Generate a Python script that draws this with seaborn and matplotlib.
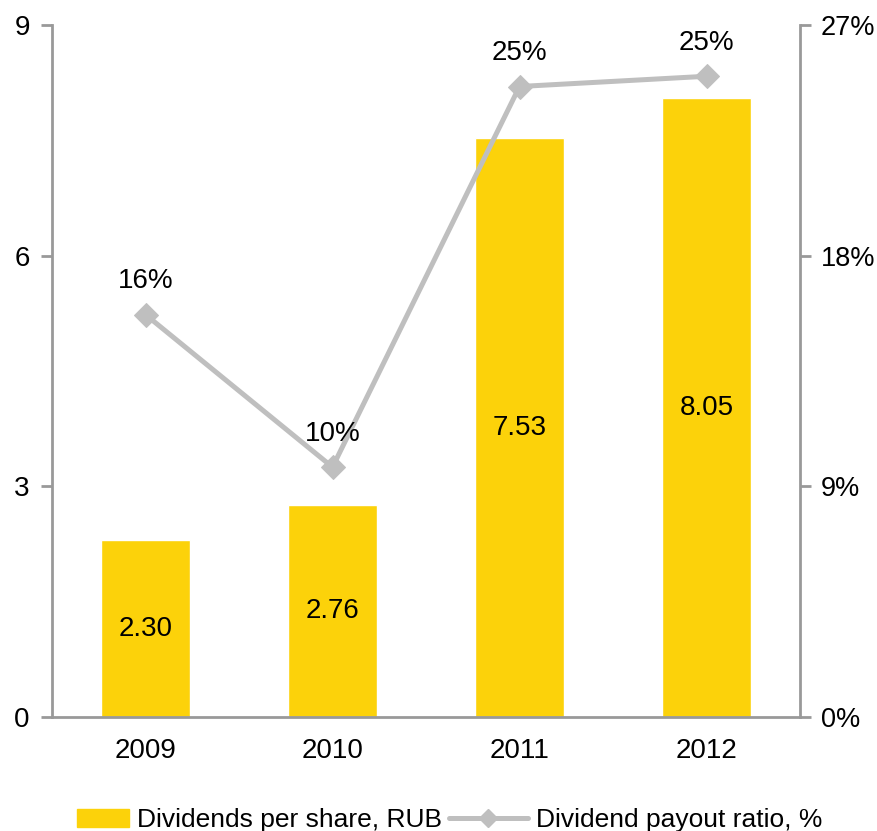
import matplotlib
matplotlib.use("Agg")
import matplotlib.pyplot as plt
import seaborn as sns
import pandas as pd
from matplotlib.lines import Line2D
from matplotlib.patches import Patch, Rectangle
from matplotlib.legend_handler import HandlerPatch

years = ["2009", "2010", "2011", "2012"]
dividends = [2.30, 2.76, 7.53, 8.05]
payout = [15.7, 9.75, 24.6, 25.0]
left_ticks = [0, 3, 6, 9]
right_ticks = [0, 9, 18, 27]

sns.set_theme(style="white")
plt.rcParams["font.family"] = ["Liberation Sans", "DejaVu Sans"]
plt.rcParams["text.color"] = "black"

BAR = "#FCD20A"
LINE = "#BFBFBF"
SPINE = "#999999"
FS = 20

df = pd.DataFrame({"year": years, "div": dividends, "pay": payout})

fig = plt.figure(figsize=(8.77, 8.31), dpi=100)
ax = fig.add_axes([52/877, 1-717/831, (800-52)/877, (717-25)/831])

sns.barplot(data=df, x="year", y="div", color=BAR, width=0.48, saturation=1, ax=ax)
ax.set_xlim(-0.5, 3.5)
ax.set_ylim(0, 9)
ax.set_yticks(left_ticks)
ax.set_xlabel("")
ax.set_ylabel("")

for i, v in enumerate(dividends):
    ax.text(i, v/2, f"{v:.2f}", ha="center", va="center", fontsize=FS, color="black")

ax2 = ax.twinx()
sns.lineplot(data=df, x="year", y="pay", color=LINE, linewidth=3.6, marker="D",
             markersize=12, markeredgecolor=LINE, markerfacecolor=LINE, sort=False, ax=ax2)
ax2.set_ylim(0, 27)
ax2.set_yticks(right_ticks)
ax2.set_yticklabels([f"{t}%" for t in right_ticks])
ax2.set_ylabel("")
ax2.set_xlim(-0.5, 3.5)

for i, v in enumerate(payout):
    ax2.text(i, v + 0.8, f"{v:.0f}%", ha="center", va="bottom", fontsize=FS, color="black")

for a in (ax, ax2):
    for s in a.spines.values():
        s.set_color(SPINE)
        s.set_linewidth(2)
    a.spines["top"].set_visible(False)
ax.tick_params(axis="y", length=8, width=2, color=SPINE, labelsize=FS, labelcolor="black", direction="out", pad=8)
ax2.tick_params(axis="y", length=8, width=2, color=SPINE, labelsize=19.5, labelcolor="black", direction="out", pad=7)
ax.spines["right"].set_visible(False)
ax2.spines["left"].set_visible(False)
ax2.spines["bottom"].set_visible(False)

ax.set_xticks([-0.5, 0.5, 1.5, 2.5, 3.5], minor=True)
ax.tick_params(axis="x", which="minor", length=8, width=2, color=SPINE, direction="out")
ax.tick_params(axis="x", which="major", length=0, labelsize=FS, labelcolor="black", pad=15)


def narrow_patch(legend, orig_handle, xdescent, ydescent, width, height, fontsize):
    w = width * 0.66
    return Rectangle((-xdescent + width - w, -ydescent), w, height)


handles = [Patch(facecolor=BAR, edgecolor=BAR),
           Line2D([0], [0], color=LINE, linewidth=3.6, marker="D", markersize=9)]
labels = ["Dividends per share, RUB", "Dividend payout ratio, %"]
fig.legend(handles, labels, loc="center", bbox_to_anchor=(436/877, 11/831), ncol=2,
           frameon=False, fontsize=19, handlelength=3.0, columnspacing=0.25, handletextpad=0.3,
           handler_map={Patch: HandlerPatch(patch_func=narrow_patch)}, labelcolor="black")

fig.savefig("out.png", dpi=100)
